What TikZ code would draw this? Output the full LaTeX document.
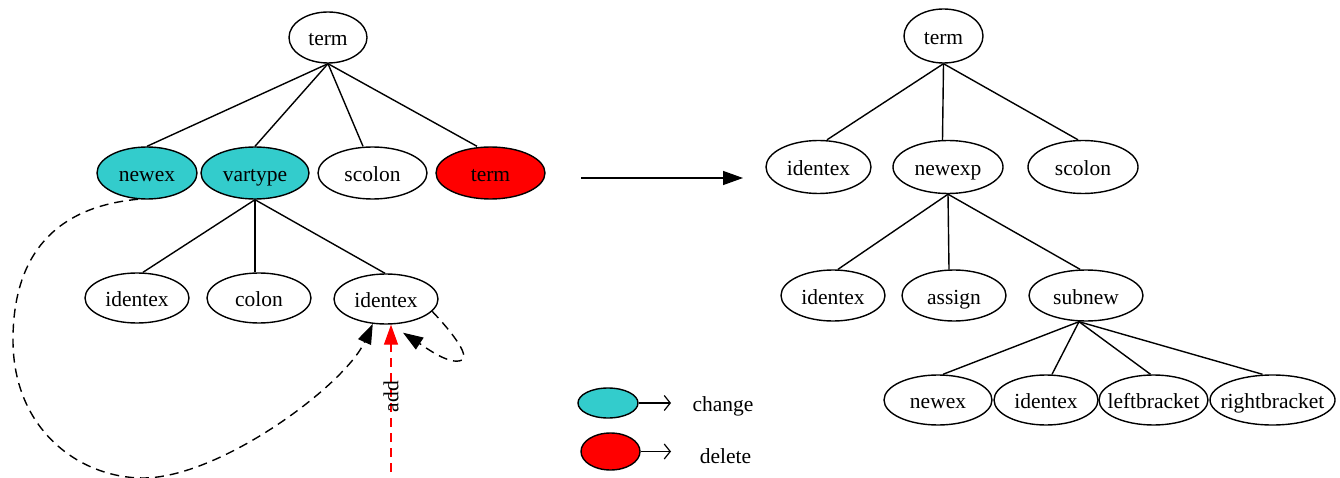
\documentclass[tikz,border=0pt]{standalone}
\usepackage{fontspec}
\setmainfont{Liberation Serif}
\usetikzlibrary{shapes.geometric,arrows.meta,calc}
\definecolor{chg}{HTML}{33CCCC}
\definecolor{del}{HTML}{FF0000}
\newcommand{\zt}[1]{\makebox[0pt]{#1}}
\begin{document}
\begin{tikzpicture}[x=1pt,y=1pt,
  lbl/.style={font=\fontsize{21.5}{26}\selectfont,text height=17pt,text depth=0pt,inner sep=0pt},
  nd/.style={ellipse,draw,line width=1.4pt,inner sep=0pt,minimum width=#1,minimum height=52pt,lbl},
  ed/.style={line width=1.4pt},
  dsh/.style={line width=1.4pt,dash pattern=on 9pt off 6pt},
  tip/.style={-{Triangle[length=20pt,width=14pt]}}
]
\useasboundingbox (0,0) rectangle (1340,-478);
% left tree
\node[nd=78,minimum height=51pt] (lterm) at (328,-37.5) {\zt{term}};
\node[nd=100,fill=chg] (lnewex) at (147,-173) {\zt{newex}};
\node[nd=108,fill=chg] (lvartype) at (255,-173) {\zt{vartype}};
\node[nd=109] (lscolon) at (372.5,-173) {\zt{scolon}};
\node[nd=109,fill=del] (lterm2) at (490.5,-173) {\zt{term}};
\node[nd=104,minimum height=50pt] (lid1) at (137,-298) {\zt{identex}};
\node[nd=104,minimum height=50pt] (lcolon) at (259,-298) {\zt{colon}};
\node[nd=104,minimum height=50pt] (lid2) at (386,-299) {\zt{identex}};
\draw[ed] (lterm.south) -- (lnewex.north);
\draw[ed] (lterm.south) -- (lvartype.north);
\draw[ed] (lterm.south) -- ($(lscolon.north)+(-9.5,0)$);
\draw[ed] (lterm.south) -- ($(lterm2.north)+(-13.5,0)$);
\draw[ed] (lvartype.south) -- ($(lid1.north)+(6,0)$);
\draw[ed] (lvartype.south) -- ($(lcolon.north)+(-4,0)$);
\draw[ed] (lvartype.south) -- ($(lid2.north)+(-1,0)$);
% dashed change arcs
\draw[dsh,tip] (lnewex.-109) .. controls (55,-207) and (13,-255) .. (13,-340)
  .. controls (13,-430) and (80,-478) .. (143,-478)
  .. controls (220,-478) and (345,-385) .. (lid2.-118);
\draw[dsh,tip] (lid2.-15) .. controls (450,-330) and (470,-355) .. (462,-360)
  .. controls (450,-366) and (425,-347) .. ($(lid2.south)+(17,-8)$);
% add arrow
\coordinate (addS) at (391,-472);
\draw[dsh,del,tip] (addS) -- (addS |- lid2.south);
\node[lbl,rotate=90] (addlbl) at (389.8,-396.5) {add};
% main arrow
\coordinate (ma1) at (581,-178);
\coordinate (ma2) at (743,-178);
\draw[ed,-{Triangle[length=20pt,width=14pt]}] (ma1) -- (ma2);
% legend
\node[nd=60,minimum height=30pt,fill=chg] (lgc) at (608,-403) {};
\node[nd=59,minimum height=37pt,fill=del] (lgd) at (610.5,-451.5) {};
\coordinate (lgce) at (671,-403);
\coordinate (lgde) at (671,-451.5);
\draw[line width=1.2pt,-{Straight Barb[length=6pt,width=15pt]}] (lgc.east) -- (lgce);
\draw[line width=1.2pt,-{Straight Barb[length=6pt,width=15pt]}] (lgd.east) -- (lgde);
\node[lbl] (lgct) at (723,-403) {change};
\node[lbl] (lgdt) at (725.5,-455) {delete};
% right tree
\node[nd=79,minimum height=54pt] (rterm) at (943.5,-36) {\zt{term}};
\node[nd=105,minimum height=53pt] (rid) at (818.5,-167) {\zt{identex}};
\node[nd=110,minimum height=53pt] (rnewexp) at (948,-167) {\zt{newexp}};
\node[nd=110,minimum height=53pt] (rscolon) at (1083,-167) {\zt{scolon}};
\node[nd=104,minimum height=51pt] (rid2) at (833,-295.5) {\zt{identex}};
\node[nd=104,minimum height=51pt] (rassign) at (954,-295.5) {\zt{assign}};
\node[nd=114,minimum height=51pt] (rsubnew) at (1086,-295.5) {\zt{subnew}};
\node[nd=108,minimum height=50pt] (rnewex) at (938,-400) {\zt{newex}};
\node[nd=104,minimum height=50pt] (rid3) at (1046,-400) {\zt{identex}};
\node[nd=109,minimum height=50pt] (rlb) at (1153.5,-400) {\zt{leftbracket}};
\node[nd=125,minimum height=50pt] (rrb) at (1272.5,-400) {\zt{rightbracket}};
\draw[ed] (rterm.south) -- ($(rid.north)+(8.5,0)$);
\draw[ed] (rterm.south) -- ($(rnewexp.north)+(-5.5,0)$);
\draw[ed] (rterm.south) -- ($(rscolon.north)+(-5,0)$);
\draw[ed] (rnewexp.south) -- ($(rid2.north)+(5,0)$);
\draw[ed] (rnewexp.south) -- ($(rassign.north)+(-5,0)$);
\draw[ed] (rnewexp.south) -- ($(rsubnew.north)+(-6,0)$);
\coordinate (sb) at ($(rsubnew.south)+(-7,0)$);
\draw[ed] (sb) -- ($(rnewex.north)+(5,0)$);
\draw[ed] (sb) -- ($(rid3.north)+(6,0)$);
\draw[ed] (sb) -- ($(rlb.north)+(-3,0)$);
\draw[ed] (sb) -- ($(rrb.north)+(-10,0)$);
\end{tikzpicture}
\end{document}
